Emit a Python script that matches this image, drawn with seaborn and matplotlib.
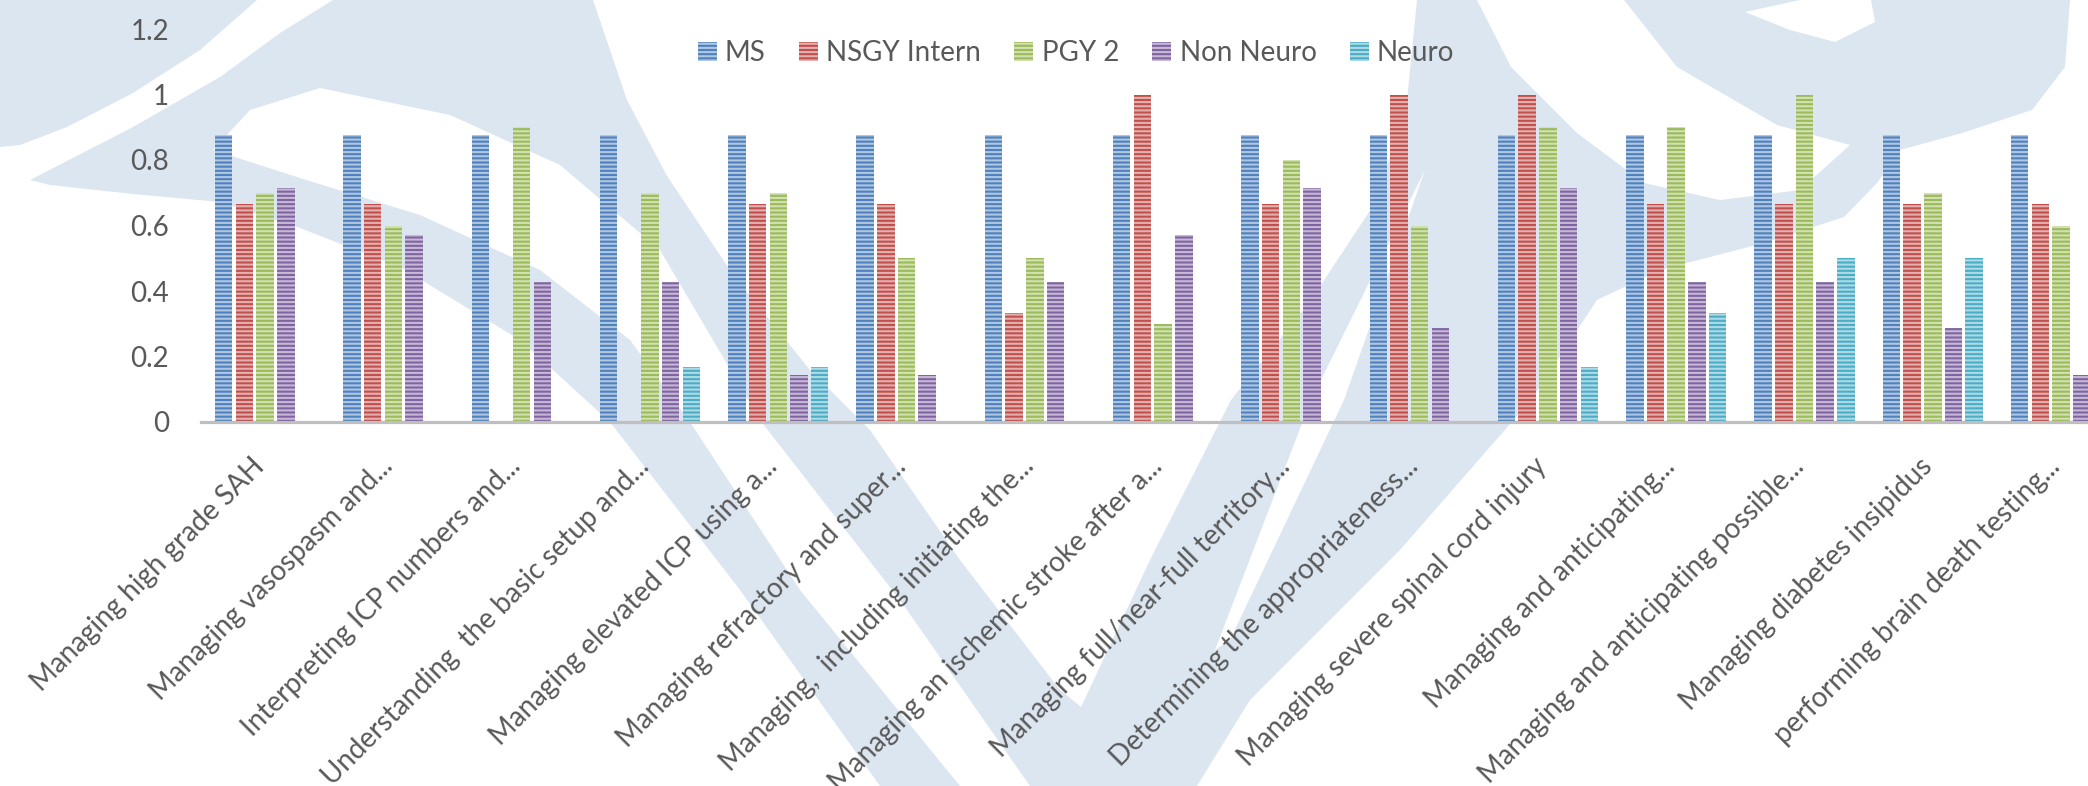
import numpy as np
import pandas as pd
import matplotlib
matplotlib.use("Agg")
import matplotlib.pyplot as plt
import matplotlib.colors as mcolors
from matplotlib.patches import Patch, Polygon
from matplotlib.transforms import ScaledTranslation
import seaborn as sns

categories = [
    "Managing high grade SAH",
    "Managing vasospasm and...",
    "Interpreting ICP numbers and...",
    "Understanding  the basic setup and...",
    "Managing elevated ICP using a...",
    "Managing refractory and super...",
    "Managing,  including initiating the...",
    "Managing an ischemic stroke after a...",
    "Managing full/near-full territory...",
    "Determining the appropriateness...",
    "Managing severe spinal cord injury",
    "Managing and anticipating...",
    "Managing and anticipating possible...",
    "Managing diabetes insipidus",
    "performing brain death testing...",
]
series_names = ["MS", "NSGY Intern", "PGY 2", "Non Neuro", "Neuro"]
ms = [0.875] * 15
nsgy = [0.667, 0.667, 0, 0, 0.667, 0.667, 0.333, 1.0, 0.667, 1.0, 1.0, 0.667, 0.667, 0.667, 0.667]
pgy2 = [0.7, 0.6, 0.9, 0.7, 0.7, 0.5, 0.5, 0.3, 0.8, 0.6, 0.9, 0.9, 1.0, 0.7, 0.6]
non_neuro = [0.714, 0.571, 0.429, 0.429, 0.143, 0.143, 0.429, 0.571, 0.714, 0.286, 0.714, 0.429, 0.429, 0.286, 0.143]
neuro = [0, 0, 0, 0.167, 0.167, 0, 0, 0, 0, 0, 0.167, 0.333, 0.5, 0.5, 0]
yticks = [0, 0.2, 0.4, 0.6, 0.8, 1.0, 1.2]
ytick_labels = ["0", "0.2", "0.4", "0.6", "0.8", "1", "1.2"]

colors = ["#4F81BD", "#C0504D", "#9BBB59", "#8064A2", "#4BACC6"]

df = pd.DataFrame({
    "category": categories * 5,
    "group": sum([[s] * 15 for s in series_names], []),
    "value": ms + nsgy + pgy2 + non_neuro + neuro,
})

sns.set_theme(style="white")
plt.rcParams["font.family"] = ["Lato", "DejaVu Sans"]
plt.rcParams["hatch.linewidth"] = 1.5
text_color = "#595959"
FS = 20

W, H = 2088, 786
fig = plt.figure(figsize=(W / 100, H / 100), dpi=100)
fig.patch.set_facecolor("white")

# light background watermark (decoration), outlined in image pixels
wm_color = "#DCE6F1"
wm_shapes = [
    [(0, 0), (257, 0), (200, 50), (133, 93), (67, 127), (20, 145), (0, 147)],
    [(333, 0), (593, 0), (627, 100), (667, 176), (734, 276), (810, 370), (870, 430),
     (960, 560), (1060, 690), (1180, 786), (1030, 786), (900, 600), (760, 420),
     (660, 250), (560, 165), (450, 115), (320, 88), (250, 110), (213, 150),
     (300, 178), (420, 215), (540, 270), (630, 340), (690, 422), (800, 590),
     (960, 786), (880, 786), (740, 590), (610, 422), (520, 340), (400, 267),
     (300, 228), (220, 202), (133, 194), (50, 185), (30, 180), (133, 127),
     (220, 77), (280, 33)],
    [(1417, 0), (2070, 0), (2065, 67), (2032, 110), (1962, 133), (1900, 150),
     (1877, 183), (1844, 217), (1764, 243), (1660, 270), (1597, 300), (1531, 400),
     (1400, 550), (1250, 700), (1197, 786), (1044, 786), (1150, 560), (1231, 400),
     (1311, 300), (1377, 200), (1407, 100)],
]
wm_holes = [
    [(1477, 0), (1624, 0), (1677, 67), (1777, 125), (1850, 145), (1800, 190),
     (1720, 200), (1644, 183), (1577, 133), (1511, 67)],
    [(1745, 12), (1800, 0), (1871, 0), (1875, 22), (1835, 42), (1790, 30)],
    [(1425, 170), (1344, 400), (1230, 640), (1215, 650), (1311, 400)],
]
for pts in wm_shapes:
    fig.patches.append(Polygon([(x / W, 1 - y / H) for x, y in pts], closed=True,
                               transform=fig.transFigure, facecolor=wm_color,
                               edgecolor="none", zorder=-5))
for pts in wm_holes:
    fig.patches.append(Polygon([(x / W, 1 - y / H) for x, y in pts], closed=True,
                               transform=fig.transFigure, facecolor="white",
                               edgecolor="none", zorder=-4))

ax = fig.add_axes([201 / W, 1 - 422 / H, 1 - 201 / W, (422 - 29) / H])
ax.set_facecolor("none")

sns.barplot(data=df, x="category", y="value", hue="group", order=categories,
            hue_order=series_names, palette=colors, width=0.807, gap=0.155,
            ax=ax, legend=False, errorbar=None)

def light(c, f=0.5):
    r, g, b = mcolors.to_rgb(c)
    return (r + (1 - r) * f, g + (1 - g) * f, b + (1 - b) * f)

for cont, c in zip(ax.containers, colors):
    for p in cont.patches:
        p.set_facecolor(c)
        p.set_edgecolor(light(c, 0.55))
        p.set_hatch("----")
        p.set_linewidth(0)

ax.set_xlim(-0.5, 14.21)
ax.set_ylim(0, 1.2)
ax.set_yticks(yticks)
ax.set_yticklabels(ytick_labels)
ax.set_xlabel("")
ax.set_ylabel("")
for s in ["left", "right", "top"]:
    ax.spines[s].set_visible(False)
ax.spines["bottom"].set_color("#BFBFBF")
ax.spines["bottom"].set_linewidth(2.3)
ax.tick_params(axis="y", length=0, pad=23, labelsize=FS, labelcolor=text_color)
ax.tick_params(axis="x", length=0, pad=29, labelsize=FS, labelcolor=text_color)
offset = ScaledTranslation(-0.05, 0, fig.dpi_scale_trans)
for lab in ax.get_xticklabels():
    lab.set_rotation(45)
    lab.set_ha("right")
    lab.set_va("center")
    lab.set_rotation_mode("anchor")
    lab.set_transform(lab.get_transform() + offset)
ax.grid(False)

handles = [Patch(facecolor=c, edgecolor=light(c, 0.55), hatch="----", linewidth=0, label=n)
           for c, n in zip(colors, series_names)]
leg = fig.legend(handles=handles, loc="center", bbox_to_anchor=(1076 / W, 1 - 53 / H),
                 ncol=5, frameon=False, fontsize=FS, handlelength=0.68, handleheight=0.68,
                 handletextpad=0.3, columnspacing=1.2, labelcolor=text_color)

fig.savefig("out.png", dpi=100)
